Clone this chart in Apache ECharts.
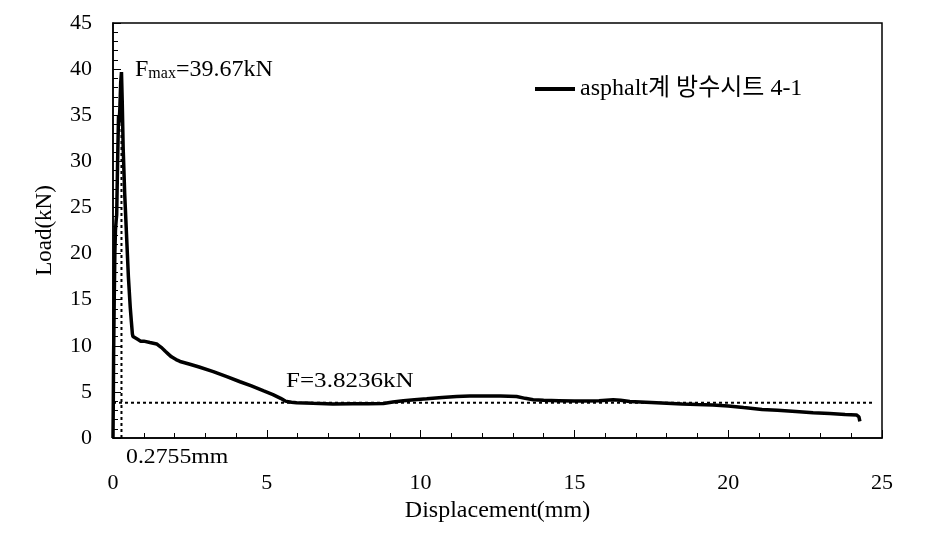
<!DOCTYPE html>
<html>
<head>
<meta charset="utf-8">
<script src="https://cdn.jsdelivr.net/npm/echarts@6/dist/echarts.min.js"></script>
<style>html,body{margin:0;padding:0;background:#fff}#c{width:931px;height:543px}</style>
</head>
<body>
<div id="c"></div>
<script>
// Displacement (mm) and load (kN)
var displacement = [0, 0.01, 0.02, 0.04, 0.06, 0.08, 0.1, 0.12, 0.15, 0.18, 0.2, 0.22, 0.25, 0.2755, 0.3, 0.33, 0.38, 0.44, 0.5, 0.56, 0.6, 0.63, 0.65, 0.7, 0.8, 0.9, 1.0, 1.2, 1.42, 1.5, 1.58, 1.7, 1.8, 1.9, 2.05, 2.18, 2.5, 2.8, 3.26, 3.7, 4.13, 4.5, 4.9, 5.2, 5.45, 5.6, 5.8, 5.97, 6.5, 7.15, 7.8, 8.3, 8.79, 9.1, 9.44, 9.8, 10.2, 10.7, 11.17, 11.6, 12.0, 12.6, 13.12, 13.4, 13.66, 14.0, 14.5, 15.0, 15.28, 15.8, 16.26, 16.5, 16.8, 17.5, 18.0, 18.5, 19.0, 19.5, 20.0, 20.5, 21.1, 21.6, 22.2, 22.76, 23.3, 23.8, 24.17, 24.25, 24.28];
var load = [0, 4, 9, 15, 20, 22.5, 23.5, 24.2, 30, 35, 34.2, 35.5, 38.5, 39.67, 36.5, 31.5, 26.5, 22, 17.5, 14.2, 12.5, 11.3, 11.0, 10.9, 10.7, 10.5, 10.5, 10.35, 10.2, 10.0, 9.8, 9.4, 9.1, 8.8, 8.5, 8.3, 8.0, 7.7, 7.2, 6.65, 6.1, 5.65, 5.1, 4.7, 4.3, 4.0, 3.88, 3.83, 3.76, 3.69, 3.72, 3.72, 3.75, 3.9, 4.05, 4.15, 4.25, 4.4, 4.5, 4.55, 4.55, 4.55, 4.5, 4.3, 4.15, 4.1, 4.05, 4.0, 4.0, 4.05, 4.15, 4.1, 3.95, 3.85, 3.78, 3.7, 3.63, 3.58, 3.48, 3.3, 3.1, 3.0, 2.88, 2.75, 2.65, 2.55, 2.5, 2.3, 1.8];

// Reference lines
var fmaxDisp = 0.2755, fmaxLoad = 39.67;
var fLoad = 3.8236;
var hLineX = [0, 24.77];
var vLineY = [0, 39.67];

var xTicks = [0, 5, 10, 15, 20, 25];
var yTicks = [0, 5, 10, 15, 20, 25, 30, 35, 40, 45];

var legendName = 'asphalt계 방수시트 4-1';
var FONT = "'Liberation Serif', 'Noto Sans CJK KR', serif";
var FS = 22;

var curve = displacement.map(function (d, i) { return [d, load[i]]; });
var hLine = hLineX.map(function (x) { return [x, fLoad]; });
var vLine = vLineY.map(function (y) { return [fmaxDisp, y]; });

var chart = echarts.init(document.getElementById('c'), null, {renderer: 'canvas'});
chart.setOption({
  animation: false,
  backgroundColor: '#fff',
  textStyle: {fontFamily: FONT},
  grid: {left: 113, right: 49, top: 23, bottom: 105, show: true, borderColor: '#000', borderWidth: 1.5, backgroundColor: 'transparent'},
  legend: {
    data: [legendName], left: 535, top: 77, padding: 0, icon: 'rect', itemWidth: 40, itemHeight: 4, itemGap: 0,
    textStyle: {fontFamily: FONT, fontSize: 24, color: '#000', padding: [0, 0, 0, 0]}
  },
  xAxis: {
    type: 'value', min: xTicks[0], max: xTicks[xTicks.length - 1], interval: 5,
    name: 'Displacement(mm)', nameLocation: 'middle', nameGap: 59,
    nameTextStyle: {fontFamily: FONT, fontSize: 24, color: '#000'},
    axisLine: {show: true, onZero: false, lineStyle: {color: '#000', width: 1.5}},
    axisTick: {show: true, inside: true, length: 8, lineStyle: {color: '#000', width: 1}},
    minorTick: {show: true, splitNumber: 5, length: 5, lineStyle: {color: '#000', width: 1}},
    axisLabel: {margin: 34, fontFamily: FONT, fontSize: FS, color: '#000'},
    splitLine: {show: false}
  },
  yAxis: {
    type: 'value', min: yTicks[0], max: yTicks[yTicks.length - 1], interval: 5,
    name: 'Load(kN)', nameLocation: 'middle', nameGap: 57,
    nameTextStyle: {fontFamily: FONT, fontSize: 23, color: '#000'},
    axisLine: {show: true, lineStyle: {color: '#000', width: 1.5}},
    axisTick: {show: true, inside: true, length: 8, lineStyle: {color: '#000', width: 1}},
    minorTick: {show: true, splitNumber: 5, length: 5, lineStyle: {color: '#000', width: 1}},
    axisLabel: {margin: 21, fontFamily: FONT, fontSize: FS, color: '#000'},
    splitLine: {show: false}
  },
  series: [
    {
      name: 'fline', type: 'line', data: hLine, symbol: 'none', silent: true,
      lineStyle: {color: '#000', width: 2, type: [3, 3]}, z: 1
    },
    {
      name: 'vline', type: 'line', data: vLine, symbol: 'none', silent: true,
      lineStyle: {color: '#000', width: 2, type: [3, 3]}, z: 1
    },
    {
      name: legendName, type: 'line', data: curve, symbol: 'none',
      lineStyle: {color: '#000', width: 3.5}, itemStyle: {color: '#000'}, z: 3
    }
  ],
  graphic: [
    {
      type: 'text', x: 135, y: 58,
      style: {
        text: '{a|F}{b|max}{a|=39.67kN}',
        rich: {
          a: {fontFamily: FONT, fontSize: 24, fill: '#000'},
          b: {fontFamily: FONT, fontSize: 16, fill: '#000', padding: [7, 0, 0, 0]}
        }
      }
    },
    {
      type: 'text', x: 286, y: 370, scaleX: 1.14,
      style: {text: 'F=3.8236kN', fontFamily: FONT, fontSize: FS, fill: '#000'}
    },
    {
      type: 'text', x: 126, y: 446, scaleX: 1.08,
      style: {text: '0.2755mm', fontFamily: FONT, fontSize: FS, fill: '#000'}
    }
  ]
});
</script>
</body>
</html>
